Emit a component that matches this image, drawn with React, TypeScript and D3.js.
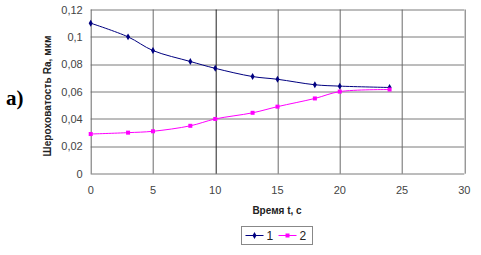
import * as d3 from "d3";
import { useEffect, useRef } from "react";

const times = [0, 3, 5, 8, 10, 13, 15, 18, 20, 24];
const series1 = [0.11, 0.1, 0.09, 0.082, 0.077, 0.071, 0.069, 0.065, 0.064, 0.063];
const series2 = [0.029, 0.03, 0.031, 0.035, 0.04, 0.0445, 0.049, 0.055, 0.06, 0.0615];
const xTicks = [0, 5, 10, 15, 20, 25, 30];
const yTicks = [0, 0.02, 0.04, 0.06, 0.08, 0.1, 0.12];
const seriesNames = ["1", "2"];

export default function App() {
  const svgRef = useRef<SVGSVGElement>(null);

  useEffect(() => {
    if (!svgRef.current) return;
    const svg = d3.select(svgRef.current);
    svg.selectAll("*").remove();

    const margin = { top: 9.5, left: 90.7, right: 16.7, bottom: 81.3 };
    const W = 481;
    const H = 255;
    const width = W - margin.left - margin.right;
    const height = H - margin.top - margin.bottom;

    const x = d3.scaleLinear().domain([0, 30]).range([0, width]);
    const y = d3.scaleLinear().domain([0, 0.12]).range([height, 0]);
    const fmt = (d: number) => String(d).replace(".", ",");

    svg.append("rect").attr("width", W).attr("height", H).attr("fill", "#fff");

    const g = svg
      .append("g")
      .attr("transform", `translate(${margin.left},${margin.top})`);

    // grid
    g.selectAll(".hgrid")
      .data(yTicks)
      .enter()
      .append("line")
      .attr("x1", 0)
      .attr("x2", width)
      .attr("y1", (d) => Math.round(y(d)) + 0.5)
      .attr("y2", (d) => Math.round(y(d)) + 0.5)
      .attr("stroke", "#7a7a7a")
      .attr("stroke-width", 1);

    g.selectAll(".vgrid")
      .data(xTicks)
      .enter()
      .append("line")
      .attr("x1", (d) => Math.round(x(d)) + 0.5)
      .attr("x2", (d) => Math.round(x(d)) + 0.5)
      .attr("y1", 0)
      .attr("y2", height)
      .attr("stroke", (d) => (d === 10 ? "#222" : "#6a6a6a"))
      .attr("stroke-width", 1);

    // tick labels
    g.selectAll(".ylab")
      .data(yTicks)
      .enter()
      .append("text")
      .attr("x", -8)
      .attr("y", (d) => y(d) + 4)
      .attr("text-anchor", "end")
      .attr("font-family", "Liberation Sans, Arial, sans-serif")
      .attr("font-size", 11)
      .attr("fill", "#444")
      .text((d) => fmt(d));

    g.selectAll(".xlab")
      .data(xTicks)
      .enter()
      .append("text")
      .attr("x", (d) => x(d))
      .attr("y", height + 20)
      .attr("text-anchor", "middle")
      .attr("font-family", "Liberation Sans, Arial, sans-serif")
      .attr("font-size", 11)
      .attr("fill", "#444")
      .text((d) => String(d));

    const line = d3
      .line<[number, number]>()
      .x((d) => x(d[0]))
      .y((d) => y(d[1]))
      .curve(d3.curveCatmullRom.alpha(0.5));

    const colors = ["#000080", "#ff00ff"];
    [series1, series2].forEach((s, i) => {
      const pts = times.map((t, j) => [t, s[j]] as [number, number]);
      g.append("path")
        .datum(pts)
        .attr("fill", "none")
        .attr("stroke", colors[i])
        .attr("stroke-width", 1)
        .attr("d", line);
      if (i === 0) {
        g.selectAll(".m1")
          .data(pts)
          .enter()
          .append("path")
          .attr("d", d3.symbol(d3.symbolDiamond, 14)())
          .attr("transform", (d) => `translate(${x(d[0])},${y(d[1])})`)
          .attr("fill", colors[i]);
      } else {
        g.selectAll(".m2")
          .data(pts)
          .enter()
          .append("rect")
          .attr("x", (d) => x(d[0]) - 2)
          .attr("y", (d) => y(d[1]) - 2)
          .attr("width", 4)
          .attr("height", 4)
          .attr("fill", colors[i]);
      }
    });

    // axis titles
    svg
      .append("text")
      .attr("transform", "translate(51,96) rotate(-90)")
      .attr("text-anchor", "middle")
      .attr("font-family", "Liberation Sans, Arial, sans-serif")
      .attr("font-size", 10)
      .attr("font-weight", "bold")
      .attr("letter-spacing", 0.1)
      .attr("fill", "#222")
      .text("Шероховатость Ra, мкм");

    svg
      .append("text")
      .attr("x", 277)
      .attr("y", 214)
      .attr("text-anchor", "middle")
      .attr("font-family", "Liberation Sans, Arial, sans-serif")
      .attr("font-size", 10)
      .attr("font-weight", "bold")
      .attr("fill", "#222")
      .text("Время t, с");

    svg
      .append("text")
      .attr("x", 6)
      .attr("y", 105)
      .attr("font-family", "Liberation Serif, Times New Roman, serif")
      .attr("font-size", 21)
      .attr("font-weight", "bold")
      .attr("fill", "#000")
      .text("a)");

    // legend
    const lg = svg.append("g").attr("transform", "translate(241.5,226.5)");
    lg.append("rect")
      .attr("width", 71)
      .attr("height", 18)
      .attr("fill", "#fff")
      .attr("stroke", "#888");
    seriesNames.forEach((name, i) => {
      const ox = 4 + i * 33;
      lg.append("line")
        .attr("x1", ox)
        .attr("x2", ox + 18)
        .attr("y1", 9)
        .attr("y2", 9)
        .attr("stroke", colors[i]);
      if (i === 0) {
        lg.append("path")
          .attr("d", d3.symbol(d3.symbolDiamond, 14)())
          .attr("transform", `translate(${ox + 9},9)`)
          .attr("fill", colors[i]);
      } else {
        lg.append("rect")
          .attr("x", ox + 7)
          .attr("y", 7)
          .attr("width", 4)
          .attr("height", 4)
          .attr("fill", colors[i]);
      }
      lg.append("text")
        .attr("x", ox + 21)
        .attr("y", 13.5)
        .attr("font-family", "Liberation Sans, Arial, sans-serif")
        .attr("font-size", 12)
        .attr("fill", "#222")
        .text(name);
    });
  }, []);

  return (
    <svg
      ref={svgRef}
      width={481}
      height={255}
      style={{ position: "absolute", left: 0, top: 0, display: "block" }}
    />
  );
}
